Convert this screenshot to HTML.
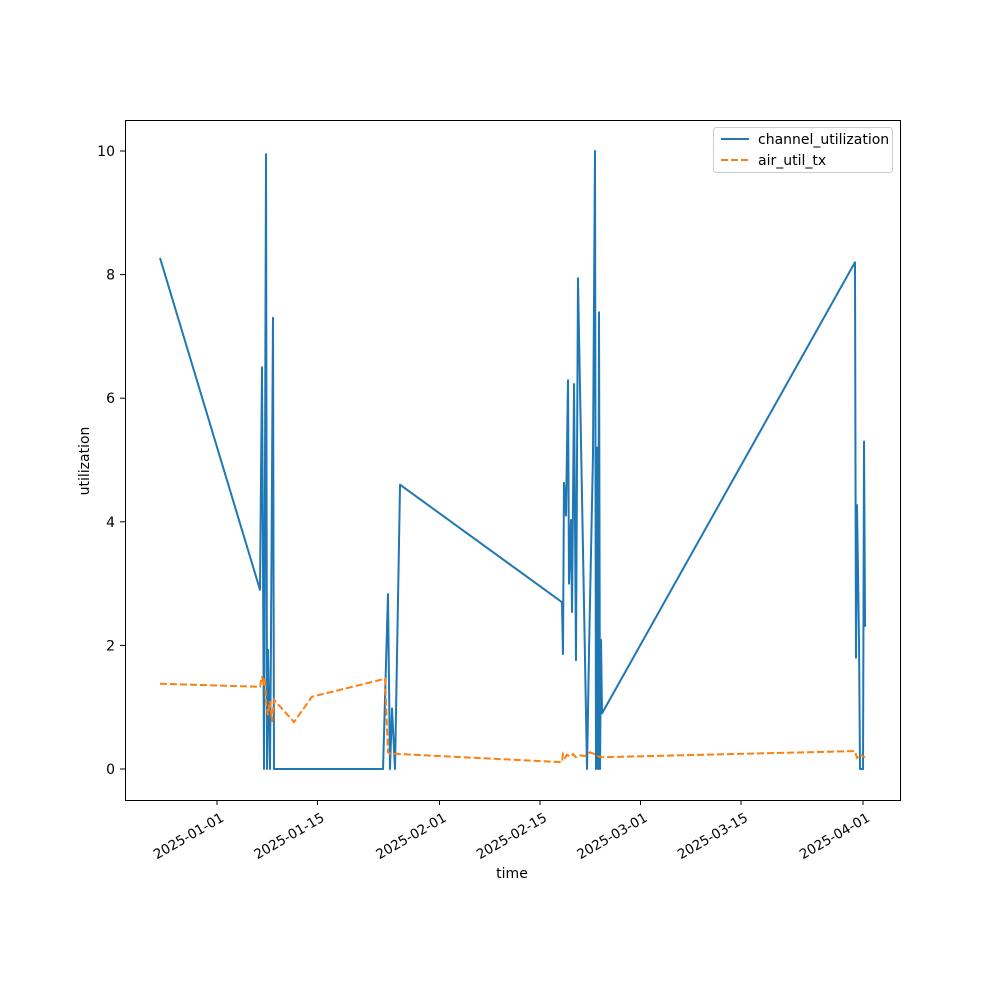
<!DOCTYPE html>
<html><head><meta charset="utf-8"><style>
body{margin:0;background:#fff}
svg{display:block;font-family:"DejaVu Sans","Liberation Sans",sans-serif}
</style></head><body>
<svg id="chart" width="1000" height="1000">
<rect x="0" y="0" width="1000" height="1000" fill="#fff"/>
<g id="plot"></g>
<rect x="125.5" y="120.5" width="775" height="680" fill="none" stroke="#000" stroke-width="1"/>
<g id="xticks"></g><g id="yticks"></g>
<text x="512" y="878" font-size="14" text-anchor="middle">time</text>
<text transform="translate(89,461) rotate(-90)" font-size="14" text-anchor="middle">utilization</text>
<g>
<rect x="713.5" y="127.5" width="179" height="45" rx="3" fill="#fff" stroke="#ccc"/>
<line x1="721" y1="139" x2="749" y2="139" stroke="#1f77b4" stroke-width="2"/>
<text x="758" y="144" font-size="14">channel_utilization</text>
<line x1="721" y1="160" x2="749" y2="160" stroke="#ff7f0e" stroke-width="2" stroke-dasharray="7,3"/>
<text x="758" y="165" font-size="14">air_util_tx</text>
</g>
</svg>
<script>
// days since 2025-01-01
const channelDays=[-7.94,5.99,6.27,6.55,6.83,6.97,7.10,7.38,7.52,7.80,7.94,23.13,23.82,24.10,24.38,24.80,25.50,48.06,48.20,48.34,48.62,48.90,49.04,49.32,49.46,49.74,50.01,50.29,51.55,51.83,52.38,52.66,52.80,52.94,53.08,53.22,53.36,53.50,53.64,88.88,89.02,89.16,89.44,89.58,90.00,90.14,90.28];
const channelValues=[8.27,2.9,6.5,0,9.95,0,1.93,0,2.09,7.3,0,0,2.83,0,0.98,0,4.6,2.7,1.86,4.63,4.1,6.29,3.0,4.03,2.54,6.23,1.76,7.94,0,1.93,5.08,10.0,0,5.2,0,7.39,0,2.09,0.9,8.2,1.8,4.27,2.09,0,0,5.3,2.3];
const airDays=[-7.94,5.99,6.27,6.55,6.69,6.83,7.10,7.38,7.66,7.94,10.73,13.23,23.41,23.82,24.10,48.06,48.20,48.48,48.76,49.18,49.60,50.01,50.57,51.27,51.97,52.66,53.36,88.88,89.16,89.58,90.28];
const airValues=[1.38,1.33,1.5,1.35,1.48,1.1,0.87,1.1,0.76,1.12,0.76,1.17,1.46,0.27,0.25,0.11,0.24,0.18,0.23,0.2,0.24,0.19,0.22,0.21,0.27,0.24,0.19,0.29,0.18,0.23,0.19];
const xTickDays=[0,14,31,45,59,73,90];
const xTickLabels=["2025-01-01","2025-01-15","2025-02-01","2025-02-15","2025-03-01","2025-03-15","2025-04-01"];
const yTicks=[0,2,4,6,8,10];
const NS="http://www.w3.org/2000/svg";
const xs=d=>217+d*7.178;
const ys=v=>769-v*61.8;
function mk(t,a,p){const e=document.createElementNS(NS,t);for(const k in a)e.setAttribute(k,a[k]);p.appendChild(e);return e;}
const plot=document.getElementById('plot');
const l1=mk('polyline',{points:channelDays.map((d,i)=>xs(d)+','+ys(channelValues[i])).join(' '),fill:'none',stroke:'#1f77b4','stroke-width':2,'stroke-linejoin':'round'},plot);


const l2=mk('polyline',{points:airDays.map((d,i)=>xs(d)+','+ys(airValues[i])).join(' '),fill:'none',stroke:'#ff7f0e','stroke-width':2,'stroke-dasharray':'7,3'},plot);


const xg=document.getElementById('xticks');
xTickDays.forEach((d,i)=>{const x=xs(d);
const t=mk('line',{x1:x,y1:800,x2:x,y2:805,stroke:'#000'},xg);


const tx=mk('text',{transform:`translate(${x+3},${812}) rotate(-30)`,'font-size':13.5,'text-anchor':'end','dominant-baseline':'hanging'},xg);
tx.textContent=xTickLabels[i];

});
const yg=document.getElementById('yticks');
yTicks.forEach(v=>{const y=ys(v);
const t=mk('line',{x1:120,y1:y,x2:125,y2:y,stroke:'#000'},yg);


const tx=mk('text',{x:115,y:y+5,'font-size':14,'text-anchor':'end'},yg);
tx.textContent=v;

});
</script>
</body></html>
